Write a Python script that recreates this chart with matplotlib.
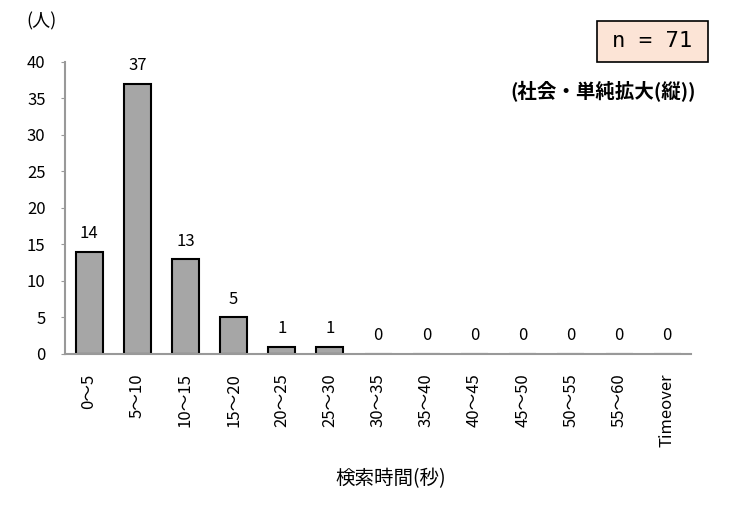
import matplotlib.pyplot as plt
from matplotlib.patches import Rectangle

plt.rcParams['font.family'] = ['Noto Sans CJK JP', 'DejaVu Sans']

labels = ["0〜5", "5〜10", "10〜15", "15〜20", "20〜25", "25〜30", "30〜35",
          "35〜40", "40〜45", "45〜50", "50〜55", "55〜60", "Timeover"]
counts = [14, 37, 13, 5, 1, 1, 0, 0, 0, 0, 0, 0, 0]

fig = plt.figure(figsize=(7.3, 5.16), dpi=100)
ax = fig.add_axes([0.089, 0.314, 0.858, 0.566])

x = list(range(len(labels)))
ax.bar(x, counts, width=0.56, color="#A6A6A6", edgecolor="black", linewidth=1.5)
for xi, c in zip(x, counts):
    ax.text(xi, c + 1.3, str(c), ha="center", va="bottom", fontsize=12)

ax.set_xlim(-0.5, 12.5)
ax.set_ylim(0, 40)
ax.set_yticks(range(0, 41, 5))
ax.set_xticks(x)
ax.set_xticklabels(labels, rotation=90, fontsize=12)
ax.tick_params(axis="x", length=0, pad=14)
ax.tick_params(axis="y", length=3, color="#999999", labelsize=12, pad=11)
for s in ["top", "right"]:
    ax.spines[s].set_visible(False)
ax.spines["left"].set_color("#999999")
ax.spines["bottom"].set_color("#999999")
ax.spines["left"].set_linewidth(1.5)
ax.spines["bottom"].set_linewidth(1.5)

fig.text(0.036, 0.958, "(人)", fontsize=13, ha="left", va="center")
fig.text(0.535, 0.073, "検索時間(秒)", fontsize=14, ha="center", va="center")

# n box
fig.patches.append(Rectangle((0.818, 0.880), 0.152, 0.079, transform=fig.transFigure,
                             facecolor="#FCE4D6", edgecolor="black", linewidth=1.2))
fig.text(0.894, 0.920, "n = 71", fontsize=16, ha="center", va="center",
         family="DejaVu Sans Mono")
fig.text(0.953, 0.822, "(社会・単純拡大(縦))", fontsize=14, fontweight="bold", ha="right", va="center")

fig.savefig("out.png")
